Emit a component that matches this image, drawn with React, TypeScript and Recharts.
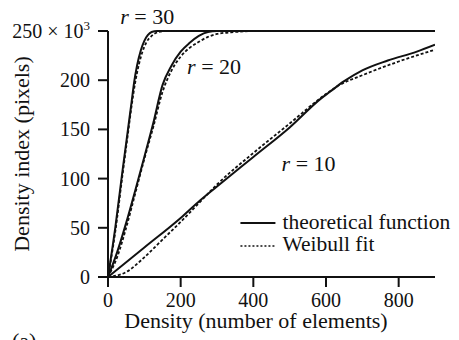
import { Label, Line, LineChart, ReferenceDot, XAxis, YAxis } from "recharts";

const xTicks = [0, 200, 400, 600, 800];
const yTicks = [0, 50, 100, 150, 200, 250];

// values in units of 10^3 pixels
const theory30 = [
  { x: 0, y: 0 }, { x: 20, y: 50 }, { x: 40, y: 108 }, { x: 55, y: 150 }, { x: 65, y: 178 },
  { x: 72, y: 198 }, { x: 80, y: 215 }, { x: 90, y: 230 }, { x: 100, y: 240 }, { x: 110, y: 246 },
  { x: 120, y: 249 }, { x: 135, y: 250 }, { x: 900, y: 250 },
];
const weibull30 = [
  { x: 0, y: 0 }, { x: 20, y: 46 }, { x: 40, y: 104 }, { x: 55, y: 146 }, { x: 65, y: 174 },
  { x: 75, y: 198 }, { x: 85, y: 216 }, { x: 95, y: 229 }, { x: 105, y: 238 }, { x: 120, y: 245 },
  { x: 140, y: 249 }, { x: 165, y: 250 }, { x: 900, y: 250 },
];
const theory20 = [
  { x: 0, y: 0 }, { x: 25, y: 25 }, { x: 50, y: 55 }, { x: 75, y: 88 }, { x: 100, y: 122 },
  { x: 125, y: 157 }, { x: 150, y: 195 }, { x: 175, y: 215 }, { x: 200, y: 229 }, { x: 225, y: 238 },
  { x: 250, y: 245 }, { x: 275, y: 249 }, { x: 300, y: 250 }, { x: 900, y: 250 },
];
const weibull20 = [
  { x: 0, y: 0 }, { x: 25, y: 20 }, { x: 50, y: 50 }, { x: 75, y: 85 }, { x: 100, y: 120 },
  { x: 125, y: 153 }, { x: 150, y: 188 }, { x: 175, y: 210 }, { x: 200, y: 224 }, { x: 225, y: 233 },
  { x: 250, y: 239 }, { x: 275, y: 244 }, { x: 300, y: 247 }, { x: 350, y: 249 }, { x: 400, y: 250 },
  { x: 900, y: 250 },
];
const theory10 = [
  { x: 0, y: 0 }, { x: 100, y: 30 }, { x: 200, y: 60 }, { x: 254, y: 78 }, { x: 300, y: 92 },
  { x: 400, y: 122 }, { x: 500, y: 152 }, { x: 585, y: 181 }, { x: 610, y: 188 }, { x: 650, y: 199 },
  { x: 700, y: 210 }, { x: 770, y: 220 }, { x: 850, y: 229 }, { x: 900, y: 236 },
];
const weibull10 = [
  { x: 0, y: 0 }, { x: 50, y: 5 }, { x: 100, y: 20 }, { x: 150, y: 38 }, { x: 200, y: 56 },
  { x: 250, y: 75 }, { x: 300, y: 94 }, { x: 400, y: 126 }, { x: 500, y: 156 }, { x: 600, y: 186 },
  { x: 632, y: 194 }, { x: 700, y: 205 }, { x: 800, y: 219 }, { x: 900, y: 231 },
];

const curveLabels = [
  { text: "30", x: 108, y: 264 },
  { text: "20", x: 292, y: 213 },
  { text: "10", x: 552, y: 115 },
];

const legendItems = ["theoretical function", "Weibull fit"];

const FONT = "'Liberation Serif', 'DejaVu Serif', serif";

function YTick(props: any) {
  const { x, y, payload } = props;
  if (payload.value === 250) {
    return (
      <text x={x} y={y} dy={7} textAnchor="end" fontFamily={FONT} fontSize={20} fill="#111">
        <tspan>250 × 10</tspan>
        <tspan dy={-8} fontSize={13}>3</tspan>
      </text>
    );
  }
  return (
    <text x={x} y={y} dy={7} textAnchor="end" fontFamily={FONT} fontSize={20} fill="#111">
      {payload.value}
    </text>
  );
}

function XTick(props: any) {
  const { x, y, payload } = props;
  return (
    <text x={x} y={y} dy={14} textAnchor="middle" fontFamily={FONT} fontSize={20} fill="#111">
      {payload.value}
    </text>
  );
}

function CurveLabel(props: any) {
  const { cx, cy, text } = props;
  return (
    <text x={cx} y={cy} dy={7} textAnchor="middle" fontFamily={FONT} fontSize={22} fill="#111">
      <tspan fontStyle="italic">r</tspan>
      <tspan> = {text}</tspan>
    </text>
  );
}

// legend drawn inside the chart svg, anchored at a data point (top-left of the box)
function LegendShape(props: any) {
  const { cx, cy } = props;
  return (
    <g>
      <line x1={cx + 2} y1={cy + 11} x2={cx + 37} y2={cy + 11} stroke="#111" strokeWidth={2} />
      <text x={cx + 44} y={cy + 17} fontFamily={FONT} fontSize={21.5} fill="#111">{legendItems[0]}</text>
      <line x1={cx + 2} y1={cy + 34} x2={cx + 36} y2={cy + 34} stroke="#111" strokeWidth={1.5} strokeDasharray="2 2" />
      <text x={cx + 44} y={cy + 39} fontFamily={FONT} fontSize={21.5} fill="#111">{legendItems[1]}</text>
    </g>
  );
}

export default function App() {
  const solid = { stroke: "#111", strokeWidth: 2, dot: false, isAnimationActive: false, type: "monotone" as const, dataKey: "y" };
  const dashed = { ...solid, strokeWidth: 1.8, strokeDasharray: "3 2" };
  return (
    <div style={{ position: "absolute", left: 0, top: 0, width: 459, height: 340, background: "#fff", overflow: "hidden" }}>
      <LineChart width={459} height={340} margin={{ top: 31, right: 24, bottom: 0, left: 0 }}>
        <XAxis
          type="number"
          dataKey="x"
          domain={[0, 900]}
          ticks={xTicks}
          height={63}
          tickSize={10}
          tickMargin={6}
          stroke="#111"
          strokeWidth={2}
          tick={<XTick />}
          allowDataOverflow
        >
          <Label
            content={() => (
              <text x={256} y={328} textAnchor="middle" fontFamily={FONT} fontSize={22} fill="#111">
                Density (number of elements)
              </text>
            )}
          />
        </XAxis>
        <YAxis
          type="number"
          domain={[0, 250]}
          ticks={yTicks}
          width={108}
          tickSize={10}
          tickMargin={8}
          stroke="#111"
          strokeWidth={2}
          tick={<YTick />}
        >
          <Label
            content={() => (
              <text
                x={22}
                y={154}
                transform="rotate(-90 22 154)"
                textAnchor="middle"
                dy={7}
                fontFamily={FONT}
                fontSize={22}
                fill="#111"
              >
                Density index (pixels)
              </text>
            )}
          />
        </YAxis>
        <Line {...solid} data={theory30} />
        <Line {...dashed} data={weibull30} />
        <Line {...solid} data={theory20} />
        <Line {...dashed} data={weibull20} />
        <Line {...solid} data={theory10} />
        <Line {...dashed} data={weibull10} />
        {curveLabels.map((c) => (
          <ReferenceDot
            key={c.text}
            x={c.x}
            y={c.y}
            r={0}
            ifOverflow="visible"
            shape={(p: any) => <CurveLabel {...p} text={c.text} />}
          />
        ))}
        <ReferenceDot x={359} y={66} r={0} ifOverflow="visible" shape={(p: any) => <LegendShape {...p} />} />
      </LineChart>
      <div
        style={{ position: "absolute", left: 12, top: 329, fontFamily: FONT, fontSize: 22, color: "#111", lineHeight: "24px" }}
      >
        (a)
      </div>
    </div>
  );
}
